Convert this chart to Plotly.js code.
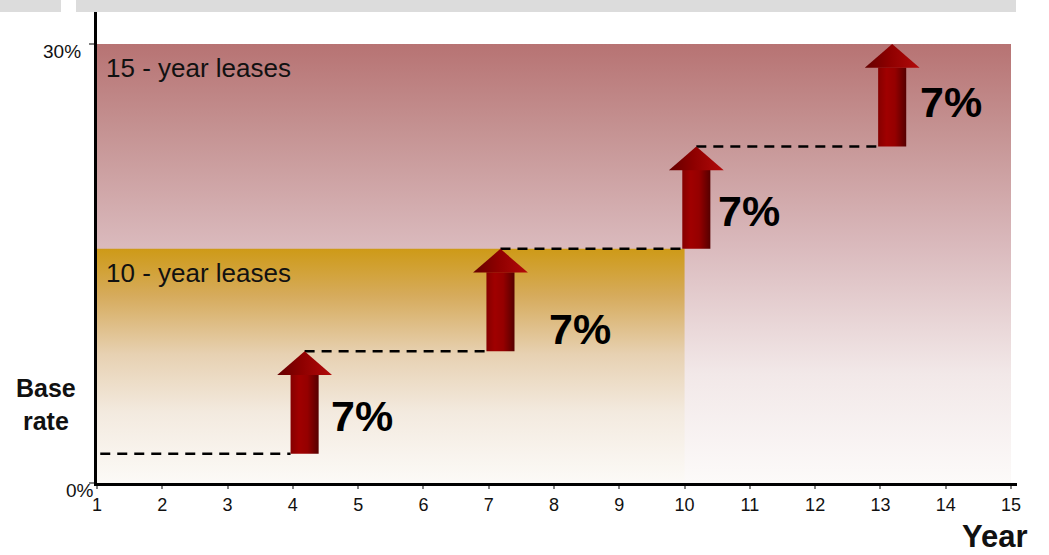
<!DOCTYPE html>
<html>
<head>
<meta charset="utf-8">
<script src="https://cdn.plot.ly/plotly-3.0.1.min.js"></script>
<style>
  html, body { margin: 0; padding: 0; background: #ffffff; }
  #chart { width: 1049px; height: 555px; }
</style>
</head>
<body>
<div id="chart"></div>
<script>
// Lease escalation schedule: a base rent rate stepped up every third year.
const years = [1, 2, 3, 4, 5, 6, 7, 8, 9, 10, 11, 12, 13, 14, 15];
const yearLabels = ["1", "2", "3", "4", "5", "6", "7", "8", "9", "10", "11", "12", "13", "14", "15"];
const baseRate = 2;                 // % of the axis scale
const stepYears = [4, 7, 10, 13];   // years in which the rent steps up
const stepIncrease = [7, 7, 7, 7];  // % increase at each step
const leaseTerms = [15, 10];        // lease lengths drawn as bands (years)
const leaseLabels = ["15 - year leases", "10 - year leases"];
const rateCeiling = 30;             // top of the rate scale (%)
const rateTickVals = [0, 30];
const rateTickText = ["0%", "30%"];

// Rate level reached after each step (level 0 is the base rate).
const levels = [baseRate];
stepIncrease.forEach((inc, i) => levels.push(levels[i] + inc));

// Drawing constants (data units unless noted).
const FONT = "Liberation Sans, Arial, sans-serif";
const arrowOffset = 0.18;   // arrow sits just right of its year
const shaftHalf = 0.215;
const headHalf = 0.42;
const headLen = 1.6;
const labelShift = [[10, -13], [32, -29], [6, -13], [12, -7]]; // px

const plotTopPx = 12, plotBottomPx = 483, plotLeftPx = 97, plotRightPx = 1017;
const pxPerUnitY = 439 / rateCeiling;
const yMax = (plotBottomPx - plotTopPx) / pxPerUnitY;
const xMax = 1 + (plotRightPx - plotLeftPx) / ((1011 - 97) / 14);

const traces = [];

// Lease bands with a vertical fade to white.
const bandScales = [
  [[0, "#fcfaf9"], [0.25, "#f2e8e8"], [0.55, "#d9b8bb"], [0.8, "#c59393"], [1, "#b77373"]],
  [[0, "#fcfaf7"], [0.3, "#f3eadf"], [0.55, "#e7d1b2"], [0.8, "#d6ab5c"], [1, "#ce9a17"]]
];
const bandTops = [rateCeiling, levels[2]];
leaseTerms.forEach((term, i) => {
  traces.push({
    type: "scatter", mode: "lines",
    x: [years[0], term, term, years[0], years[0]],
    y: [0, 0, bandTops[i], bandTops[i], 0],
    fill: "toself",
    fillgradient: { type: "vertical", colorscale: bandScales[i] },
    line: { width: 0 },
    hoverinfo: "skip", showlegend: false
  });
});

// Dashed rate levels running between the arrows.
const centers = stepYears.map(y => y + arrowOffset);
const dashX = [], dashY = [];
levels.slice(0, stepYears.length).forEach((lv, i) => {
  const x0 = i === 0 ? years[0] + 0.05 : centers[i - 1];
  const x1 = centers[i] - shaftHalf;
  dashX.push(x0, x1, null);
  dashY.push(lv, lv, null);
});
traces.push({
  type: "scatter", mode: "lines", x: dashX, y: dashY,
  line: { color: "#000000", width: 2.5, dash: "10px,7px" },
  connectgaps: false, hoverinfo: "skip", showlegend: false
});

// Step-up arrows: shaft and head drawn as shaded polygons.
const shaftScale = [[0, "#850000"], [0.3, "#a00000"], [0.6, "#950000"], [1, "#560000"]];
const headScale = [[0, "#640000"], [0.45, "#8e0000"], [1, "#b20a0a"]];
centers.forEach((cx, i) => {
  const y0 = levels[i], y1 = levels[i + 1], yh = y1 - headLen;
  traces.push({
    type: "scatter", mode: "lines",
    x: [cx - shaftHalf, cx + shaftHalf, cx + shaftHalf, cx - shaftHalf, cx - shaftHalf],
    y: [y0, y0, yh, yh, y0],
    fill: "toself",
    fillgradient: { type: "horizontal", colorscale: shaftScale },
    line: { width: 0 }, hoverinfo: "skip", showlegend: false
  });
  traces.push({
    type: "scatter", mode: "lines",
    x: [cx - headHalf, cx + headHalf, cx, cx - headHalf],
    y: [yh - 0.02, yh - 0.02, y1, yh - 0.02],
    fill: "toself",
    fillgradient: { type: "horizontal", colorscale: headScale },
    line: { width: 0 }, hoverinfo: "skip", showlegend: false
  });
});

const annotations = [];
// Step labels.
stepIncrease.forEach((inc, i) => {
  annotations.push({
    xref: "x", yref: "y",
    x: centers[i] + shaftHalf, y: (levels[i] + levels[i + 1]) / 2,
    xanchor: "left", yanchor: "middle",
    xshift: labelShift[i][0], yshift: labelShift[i][1],
    text: inc + "%", showarrow: false,
    font: { family: FONT, size: 43, color: "#000000", weight: 700 }
  });
});
// Band labels.
leaseLabels.forEach((t, i) => {
  annotations.push({
    xref: "x", yref: "y", x: years[0], y: bandTops[i],
    xanchor: "left", yanchor: "top", xshift: 7, yshift: -7,
    text: t, showarrow: false,
    font: { family: FONT, size: 26, color: "#111111" }
  });
});
// Rate tick labels.
rateTickVals.forEach((v, i) => {
  annotations.push({
    xref: "paper", yref: "y", x: 0, y: v,
    xanchor: "right", yanchor: "middle",
    xshift: i === 0 ? -1 : -14, yshift: -7,
    text: rateTickText[i], showarrow: false,
    font: { family: FONT, size: 19, color: "#111111" }
  });
});
annotations.push({
  xref: "paper", yref: "paper", x: (46 - plotLeftPx) / (plotRightPx - plotLeftPx), y: (plotBottomPx - 404) / (plotBottomPx - plotTopPx),
  xanchor: "center", yanchor: "middle",
  text: "Base<br>rate", showarrow: false,
  font: { family: FONT, size: 25, color: "#111111", weight: 700 }
});
annotations.push({
  xref: "paper", yref: "paper", x: (1029 - plotLeftPx) / (plotRightPx - plotLeftPx), y: -(555 - plotBottomPx) / (plotBottomPx - plotTopPx),
  xanchor: "right", yanchor: "bottom", borderpad: 0,
  text: "Year", showarrow: false,
  font: { family: FONT, size: 31, color: "#111111", weight: 700 }
});

const pw = plotRightPx - plotLeftPx, ph = plotBottomPx - plotTopPx;
const layout = {
  width: 1049, height: 555,
  margin: { l: plotLeftPx, r: 1049 - plotRightPx, t: plotTopPx, b: 555 - plotBottomPx, pad: 0 },
  paper_bgcolor: "#ffffff", plot_bgcolor: "#ffffff",
  showlegend: false,
  xaxis: {
    range: [1, xMax], tickvals: years, ticktext: yearLabels,
    showline: true, linecolor: "#000000", linewidth: 3,
    ticks: "outside", ticklen: 3, tickwidth: 2, tickcolor: "#808080",
    showgrid: false, zeroline: false, fixedrange: true,
    tickfont: { family: FONT, size: 18, color: "#111111" }
  },
  yaxis: {
    range: [0, yMax], tickvals: rateTickVals, showticklabels: false,
    showline: true, linecolor: "#000000", linewidth: 3,
    ticks: "outside", ticklen: 5, tickwidth: 2, tickcolor: "#808080",
    showgrid: false, zeroline: false, fixedrange: true
  },
  shapes: [
    { type: "rect", xref: "paper", yref: "paper", layer: "above",
      x0: (0 - plotLeftPx) / pw, x1: (61 - plotLeftPx) / pw, y0: 1, y1: 1 + plotTopPx / ph,
      fillcolor: "#dcdcdc", line: { width: 0 } },
    { type: "rect", xref: "paper", yref: "paper", layer: "above",
      x0: (76 - plotLeftPx) / pw, x1: (1016 - plotLeftPx) / pw, y0: 1, y1: 1 + plotTopPx / ph,
      fillcolor: "#dcdcdc", line: { width: 0 } }
  ],
  annotations: annotations
};

Plotly.newPlot("chart", traces, layout, { staticPlot: true, displayModeBar: false });
</script>
</body>
</html>
